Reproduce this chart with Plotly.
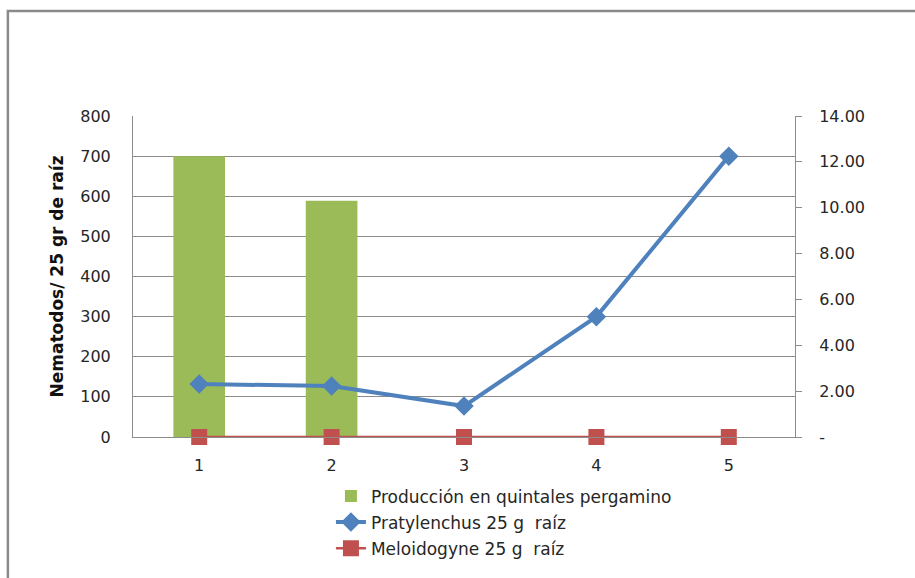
import plotly.graph_objects as go

# Sampling points and measured series
puntos = [1, 2, 3, 4, 5]
produccion = [12.25, 10.3, None, None, None]      # quintales pergamino (right axis)
pratylenchus = [132, 127, 77, 300, 700]          # nematodes per 25 g root (left axis)
meloidogyne = [0, 0, 0, 0, 0]

left_ticks = [0, 100, 200, 300, 400, 500, 600, 700, 800]
right_ticks = [0, 2, 4, 6, 8, 10, 12, 14]
right_ticktext = ["-", "2.00", "4.00", "6.00", "8.00", "10.00", "12.00", "14.00"]

GREEN = "#9BBB59"
BLUE = "#4F81BD"
RED = "#C0504D"
GRID = "#8C8C8C"
FONT = "DejaVu Sans"
TXT = "#262626"

fig = go.Figure()

fig.add_trace(go.Bar(
    x=puntos, y=produccion, name="Producción en quintales pergamino",
    marker=dict(color=GREEN, line=dict(width=0)), width=0.39, yaxis="y",
    legendgroup="a",
))
fig.add_trace(go.Scatter(
    x=puntos, y=pratylenchus, name="Pratylenchus 25 g  raíz",
    mode="lines+markers", line=dict(color=BLUE, width=4),
    marker=dict(symbol="diamond", size=15, color=BLUE), yaxis="y2",
    legendgroup="b",
))
fig.add_trace(go.Scatter(
    x=puntos, y=meloidogyne, name="Meloidogyne 25 g  raíz",
    mode="lines+markers", line=dict(color=RED, width=2.5),
    marker=dict(symbol="square", size=16, color=RED), yaxis="y2",
    cliponaxis=False, legendgroup="c",
))

fig.update_layout(
    width=915, height=578,
    margin=dict(l=133, r=120, t=116, b=141, autoexpand=False),
    paper_bgcolor="white", plot_bgcolor="white",
    font=dict(family=FONT, size=16, color=TXT),
    showlegend=True,
    legend=dict(
        x=0.299, y=-0.129, xanchor="left", yanchor="top",
        font=dict(family=FONT, size=17, color=TXT),
        tracegroupgap=1, itemwidth=30, bgcolor="rgba(0,0,0,0)",
    ),
    xaxis=dict(
        range=[0.5, 5.5], tickvals=puntos, ticktext=[str(p) for p in puntos],
        showline=True, linecolor=GRID, linewidth=1, showgrid=False,
        ticks="", ticklabelstandoff=14, zeroline=False,
    ),
    yaxis=dict(
        side="right", range=[0, 14], tickvals=right_ticks, ticktext=right_ticktext,
        showgrid=False, showline=True, linecolor=GRID, linewidth=1,
        ticks="outside", ticklen=6, tickcolor=GRID, ticklabelstandoff=14,
        zeroline=False,
    ),
    yaxis2=dict(
        overlaying="y", side="left", range=[0, 800], tickvals=left_ticks,
        showgrid=True, gridcolor=GRID, gridwidth=1,
        showline=True, linecolor=GRID, linewidth=1, ticks="",
        ticklabelstandoff=18, zeroline=False,
        title=dict(text="<b>Nematodos/ 25 gr de raíz</b>",
                   font=dict(family=FONT, size=17, color="#111111"), standoff=12),
    ),
    shapes=[dict(
        type="rect", xref="paper", yref="paper",
        x0=-0.189, x1=1.2, y0=-0.5, y1=1.327,
        line=dict(color="#8A8A8A", width=2.5), fillcolor="rgba(0,0,0,0)",
        layer="below",
    )],
)

fig.write_html("out.html")
